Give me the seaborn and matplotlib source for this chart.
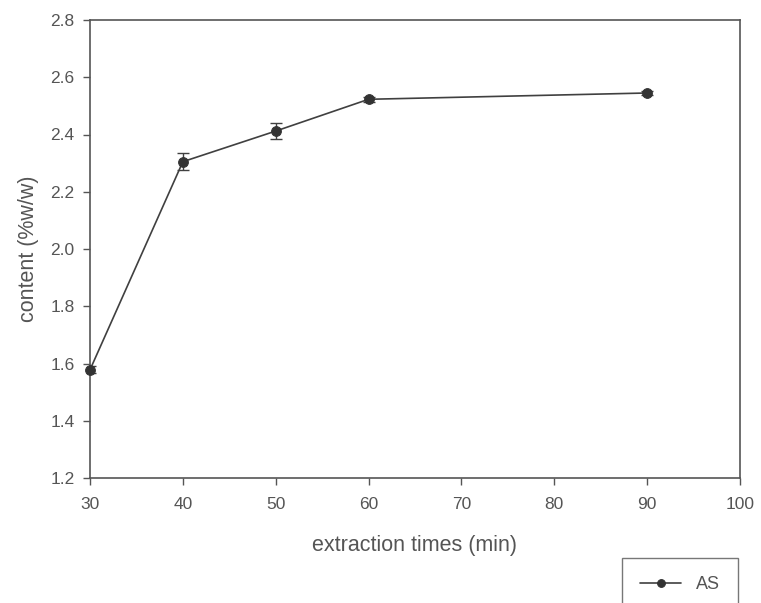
import matplotlib
matplotlib.use("Agg")
import matplotlib.pyplot as plt
import seaborn as sns
import pandas as pd

# extraction time (min) vs. content of AS (%w/w)
times = [30, 40, 50, 60, 90]
content = [1.578, 2.305, 2.412, 2.523, 2.545]
errors = [0.012, 0.030, 0.028, 0.008, 0.008]
series_name = "AS"

x_ticks = [30, 40, 50, 60, 70, 80, 90, 100]
y_ticks = [1.2, 1.4, 1.6, 1.8, 2.0, 2.2, 2.4, 2.6, 2.8]

df = pd.DataFrame({"time": times, "content": content, "err": errors})

sns.set_theme(style="white")
plt.rcParams["font.family"] = ["Liberation Sans", "DejaVu Sans"]

text_color = "#555555"
line_color = "#404040"

fig = plt.figure(figsize=(7.61, 6.03), dpi=100)
ax = fig.add_axes([90 / 761, 1 - 478 / 603, 650 / 761, 458 / 603])

ax.errorbar(df["time"], df["content"], yerr=df["err"], fmt="none",
            ecolor=line_color, elinewidth=1.0, capsize=4, capthick=1.0, zorder=3)
sns.lineplot(data=df, x="time", y="content", ax=ax, color=line_color,
             linewidth=1.2, marker="o", markersize=7, markeredgecolor="#333333",
             markerfacecolor="#333333", label=series_name, legend=False, zorder=4,
             clip_on=False)

ax.set_xlim(30, 100)
ax.set_ylim(1.2, 2.8)
ax.set_xticks(x_ticks)
ax.set_yticks(y_ticks)
ax.set_xticklabels([str(t) for t in x_ticks])
ax.set_yticklabels([f"{t:.1f}" for t in y_ticks])

ax.tick_params(axis="both", direction="out", length=5, width=1.0,
               colors="#555555", labelsize=12.5, labelcolor=text_color, pad=6,
               bottom=True, left=True)
ax.tick_params(axis="x", pad=9)
for side in ["left", "bottom", "top", "right"]:
    ax.spines[side].set_visible(True)
    ax.spines[side].set_color("#555555")
    ax.spines[side].set_linewidth(1.2)

ax.set_xlabel("extraction times (min)", fontsize=15.5, color=text_color, labelpad=16)
ax.set_ylabel("content (%w/w)", fontsize=15.5, color=text_color, labelpad=8.5)

handles, labels = ax.get_legend_handles_labels()
leg = fig.legend(handles, labels, loc="upper right",
                 bbox_to_anchor=(747 / 761, 1 - 549 / 603),
                 frameon=True, fancybox=False, fontsize=13, borderpad=1.0,
                 handlelength=2.3, markerscale=0.8, labelcolor=text_color)
leg.get_frame().set_edgecolor("#555555")
leg.get_frame().set_linewidth(1.0)

fig.savefig("out.png", dpi=100, facecolor="white")
